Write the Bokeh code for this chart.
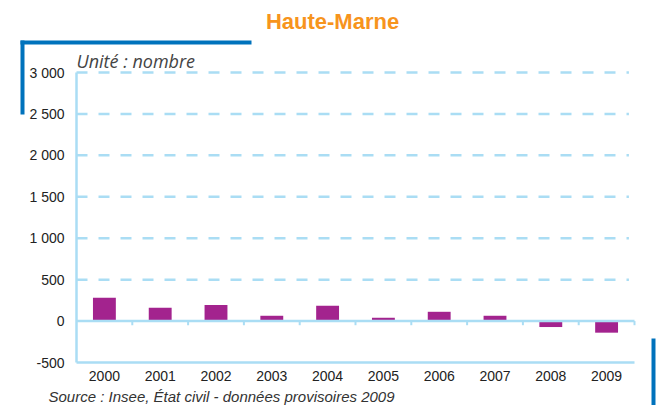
from bokeh.plotting import figure
from bokeh.models import (Range1d, FixedTicker, Label, BoxAnnotation,
                          ColumnDataSource)
from bokeh.embed import file_html
from bokeh.resources import INLINE

# ---- data ----
years = ["2000", "2001", "2002", "2003", "2004", "2005", "2006", "2007", "2008", "2009"]
values = [280, 160, 195, 64, 185, 40, 112, 64, -72, -140]
y_ticks = [-500, 0, 500, 1000, 1500, 2000, 2500, 3000]
y_tick_labels = ["-500", "0", "500", "1 000", "1 500", "2 000", "2 500", "3 000"]
grid_ticks = [500, 1000, 1500, 2000, 2500, 3000]
y_min, y_max = -500, 3000
title_text = "Haute-Marne"
unit_text = "Unité : nombre"
source_text = "Source : Insee, État civil - données provisoires 2009"

# ---- styles / layout (pixels) ----
BAR = "#A3238E"
LIGHT = "#AADDF4"
DARKBLUE = "#0072BC"
ORANGE = "#F7941D"
SANS = "Liberation Sans"

W, H = 656, 405
PX_L, PX_R, PX_T, PX_B = 76, 634, 72, 362   # plot area edges on the canvas

n = len(years)
sx = (PX_R - PX_L) / n
sy = (PX_B - PX_T) / (y_max - y_min)
x_range = Range1d(-PX_L / sx, n + (W - PX_R) / sx)
y_range = Range1d(y_min - (H - PX_B) / sy, y_max + PX_T / sy)

p = figure(width=W, height=H, output_backend="svg", toolbar_location=None,
           x_range=x_range, y_range=y_range, min_border=0)
p.outline_line_color = None
p.background_fill_color = "white"
p.xgrid.visible = False
p.ygrid.visible = False

# dashed grid lines
p.segment(x0=[0] * len(grid_ticks), x1=[n - 0.1] * len(grid_ticks),
          y0=grid_ticks, y1=grid_ticks, line_color=LIGHT, line_width=2.5,
          line_dash="11 11")

xs = [i + 0.5 for i in range(n)]
src = ColumnDataSource(dict(x=xs, top=values))
p.vbar(x="x", top="top", bottom=0, width=0.41, source=src,
       fill_color=BAR, line_color=None)

# zero line with small ticks at category boundaries
p.segment(x0=[0], x1=[n], y0=[0], y1=[0], line_color=LIGHT, line_width=2.5)
bx = list(range(1, n + 1))
p.segment(x0=bx, x1=bx, y0=[0] * len(bx), y1=[-50] * len(bx),
          line_color=LIGHT, line_width=2)

# x axis (fixed at the bottom value)
xa = p.xaxis[0]
xa.fixed_location = y_min
xa.bounds = (0, n)
xa.ticker = FixedTicker(ticks=xs)
xa.major_label_overrides = {x: y for x, y in zip(xs, years)}
xa.major_tick_line_color = None
xa.minor_tick_line_color = None
xa.axis_line_color = LIGHT
xa.axis_line_width = 2.5
xa.major_label_standoff = 2
xa.major_label_text_font = SANS
xa.major_label_text_font_size = "14px"
xa.major_label_text_color = "#222222"

# y axis (fixed at x = 0)
ya = p.yaxis[0]
ya.fixed_location = 0
ya.bounds = (y_min, y_max)
ya.ticker = FixedTicker(ticks=y_ticks)
ya.major_label_overrides = {t: l for t, l in zip(y_ticks, y_tick_labels)}
ya.major_tick_line_color = None
ya.minor_tick_line_color = None
ya.axis_line_color = LIGHT
ya.axis_line_width = 2.5
ya.major_label_standoff = 6
ya.major_label_text_font = SANS
ya.major_label_text_font_size = "14px"
ya.major_label_text_color = "#222222"

# texts
p.add_layout(Label(x=332, y=21, x_units="canvas", y_units="canvas", text=title_text,
                   text_font=SANS, text_font_style="bold", text_font_size="22px",
                   text_color=ORANGE, text_align="center", text_baseline="middle"))
p.add_layout(Label(x=76, y=60, x_units="canvas", y_units="canvas", text=unit_text,
                   text_font="Open Sans", text_font_style="italic", text_font_size="18px",
                   text_color="#444444", text_align="left", text_baseline="middle"))
p.add_layout(Label(x=48, y=396, x_units="canvas", y_units="canvas", text=source_text,
                   text_font=SANS, text_font_style="italic", text_font_size="15px",
                   text_color="#333333", text_align="left", text_baseline="middle"))

# decorative blue bars
for l, r, t, b in [(20, 251, 40, 44), (20, 24, 40, 114), (651, 655, 338, 405)]:
    p.add_layout(BoxAnnotation(left=l, right=r, top=t, bottom=b,
                               left_units="canvas", right_units="canvas",
                               top_units="canvas", bottom_units="canvas",
                               fill_color=DARKBLUE, fill_alpha=1, line_color=None,
                               level="overlay"))

open("out.html", "w").write(file_html(p, INLINE))
